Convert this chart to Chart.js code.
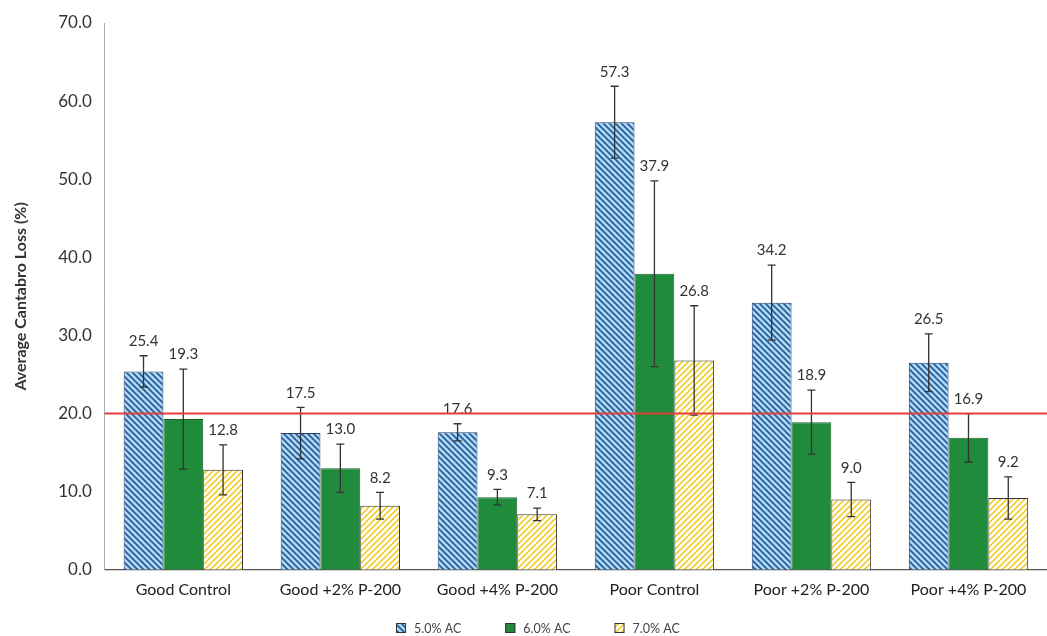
<!DOCTYPE html>
<html>
<head>
<meta charset="utf-8">
<script src="https://cdn.jsdelivr.net/npm/chart.js@4"></script>
<style>
html,body{margin:0;padding:0;background:#fff;}
#wrap{width:1047px;height:636px;}
</style>
</head>
<body>
<div id="wrap"><canvas id="chart" width="1047" height="636"></canvas></div>
<script>
// data
const categories = ['Good Control','Good +2% P-200','Good +4% P-200','Poor Control','Poor +2% P-200','Poor +4% P-200'];
const seriesNames = ['5.0% AC','6.0% AC','7.0% AC'];
const ac50 = [25.4, 17.5, 17.6, 57.3, 34.2, 26.5];
const ac60 = [19.3, 13.0, 9.3, 37.9, 18.9, 16.9];
const ac70 = [12.8, 8.2, 7.1, 26.8, 9.0, 9.2];
const err50 = [2.0, 3.3, 1.1, 4.6, 4.8, 3.7];
const err60 = [6.4, 3.1, 1.0, 11.9, 4.1, 3.1];
const err70 = [3.2, 1.7, 0.8, 7.0, 2.2, 2.7];
const yTicks = [0,10,20,30,40,50,60,70];
const threshold = 20;

const FONT = 'Lato, "Open Sans", sans-serif';

function stripes(bg, fg, dir){
  const c = document.createElement('canvas'); c.width = 6; c.height = 6;
  const g = c.getContext('2d');
  g.fillStyle = bg; g.fillRect(0,0,6,6);
  g.strokeStyle = fg; g.lineWidth = 1.6;
  g.beginPath();
  if (dir === 'down'){ // "\\" stripes
    g.moveTo(-1,-1); g.lineTo(7,7);
    g.moveTo(-1,5); g.lineTo(1,7);
    g.moveTo(5,-1); g.lineTo(7,1);
  } else { // "//" stripes
    g.moveTo(-1,7); g.lineTo(7,-1);
    g.moveTo(-1,1); g.lineTo(1,-1);
    g.moveTo(5,7); g.lineTo(7,5);
  }
  g.stroke();
  return g.createPattern(c,'repeat');
}
const bluePat = stripes('#a9daf3', '#2a5597', 'down');
const yellowPat = stripes('#ffffff', '#f2cd2a', 'up');

// error bars, labels, red 20% line, small legend at the bottom
const extras = {
  id:'extras',
  afterDatasetsDraw(chart){
    const ctx = chart.ctx, y = chart.scales.y, area = chart.chartArea;
    const errs = [err50, err60, err70];
    ctx.save();
    chart.data.datasets.forEach((ds,i)=>{
      chart.getDatasetMeta(i).data.forEach((bar,j)=>{
        const v = ds.data[j], e = errs[i][j];
        const yt = y.getPixelForValue(v+e), yb = y.getPixelForValue(v-e);
        ctx.strokeStyle = '#333'; ctx.lineWidth = 1.3;
        ctx.beginPath();
        ctx.moveTo(bar.x, yt); ctx.lineTo(bar.x, yb);
        ctx.moveTo(bar.x-4, yt); ctx.lineTo(bar.x+4, yt);
        ctx.moveTo(bar.x-4, yb); ctx.lineTo(bar.x+4, yb);
        ctx.stroke();
        ctx.fillStyle = '#333'; ctx.font = '15px '+FONT;
        ctx.textAlign = 'center'; ctx.textBaseline = 'bottom';
        ctx.fillText(v.toFixed(1), bar.x, yt-7);
      });
    });
    const ly = y.getPixelForValue(threshold);
    ctx.strokeStyle = '#e2403a'; ctx.lineWidth = 2;
    ctx.beginPath(); ctx.moveTo(area.left, ly); ctx.lineTo(chart.width, ly); ctx.stroke();

    // legend
    ctx.font = '12.5px '+FONT; ctx.textBaseline = 'middle'; ctx.textAlign = 'left';
    const items = chart.data.datasets.map(d=>({ ds:d, w: 10 + 8 + ctx.measureText(d.label).width }));
    const gap = 44;
    const total = items.reduce((s,it)=>s+it.w,0) + gap*(items.length-1);
    let lx = (area.left + area.right)/2 - 38 - total/2;
    const legY = chart.height - 8;
    items.forEach(it=>{
      ctx.fillStyle = it.ds.backgroundColor; ctx.fillRect(lx, legY-5, 10, 10);
      ctx.strokeStyle = '#333'; ctx.lineWidth = 1; ctx.strokeRect(lx+0.5, legY-4.5, 9, 9);
      ctx.fillStyle = '#444'; ctx.fillText(it.ds.label, lx+18, legY+0.5);
      lx += it.w + gap;
    });
    ctx.restore();
  }
};

new Chart(document.getElementById('chart'), {
  type:'bar',
  data:{
    labels: categories,
    datasets:[
      { label: seriesNames[0], data: ac50, backgroundColor: bluePat, borderColor:'#27406e', borderWidth:1 },
      { label: seriesNames[1], data: ac60, backgroundColor: '#1f8b3b', borderColor:'#15642a', borderWidth:1 },
      { label: seriesNames[2], data: ac70, backgroundColor: yellowPat, borderColor:'#333', borderWidth:1 }
    ]
  },
  options:{
    responsive:false, animation:false,
    layout:{ padding:{ top:23, right:0, left:7, bottom:27 } },
    datasets:{ bar:{ categoryPercentage:0.76, barPercentage:1.0 } },
    plugins:{
      legend:{ display:false },
      tooltip:{ enabled:false }
    },
    scales:{
      x:{
        grid:{ display:false, drawTicks:false },
        border:{ color:'#555', width:1.2 },
        ticks:{ font:{ family:FONT, size:16 }, color:'#222', padding:10 }
      },
      y:{
        min:0, max:70,
        afterBuildTicks(ax){ ax.ticks = yTicks.map(v=>({value:v})); },
        grid:{ display:false, drawOnChartArea:false, drawTicks:true, tickLength:5, color:'#999' },
        border:{ color:'#aaa', width:1 },
        ticks:{ font:{ family:FONT, size:17 }, color:'#333', padding:8, callback:v=>v.toFixed(1) },
        title:{ display:true, text:'Average Cantabro Loss (%)', font:{ family:FONT, size:16, weight:'bold' }, color:'#333', padding:{ bottom:20 } }
      }
    }
  },
  plugins:[extras]
});
</script>
</body>
</html>
